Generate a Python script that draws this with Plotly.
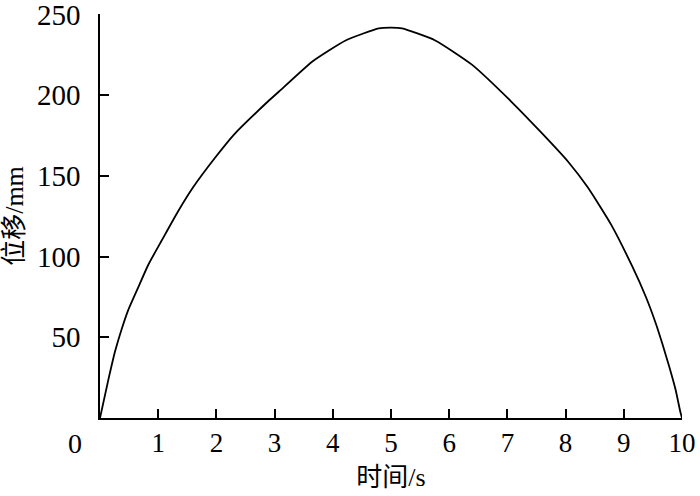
import plotly.graph_objects as go

# time (s) and displacement (mm)
time_s = [0, 0.143, 0.257, 0.372, 0.486, 0.657, 0.83, 1.06, 1.34, 1.6, 1.97,
          2.31, 2.88, 3.08, 3.65, 4.22, 4.79, 5.0, 5.19, 5.76, 6.39, 7.07,
          7.58, 8.04, 8.38, 8.78, 9.15, 9.38, 9.55, 9.66, 9.78, 9.89, 9.97,
          10.0]
disp_mm = [0, 23.6, 41, 55, 67, 81, 95, 110, 128, 143, 161,
           176, 196, 202.5, 221, 234, 241.5, 242, 241.5, 234, 219, 196,
           177, 159, 143, 120, 93.6, 75, 58.6, 46.3, 31.9, 17.5, 4,
           0]

x_ticks = [1, 2, 3, 4, 5, 6, 7, 8, 9, 10]
y_ticks = [50, 100, 150, 200, 250]

FONT = "Liberation Serif, Noto Sans CJK SC, serif"

fig = go.Figure()

fig.add_trace(
    go.Scatter(
        x=time_s,
        y=disp_mm,
        mode="lines",
        line=dict(color="black", width=1.8, shape="spline", smoothing=0.5),
        showlegend=False,
    )
)

axis_style = dict(
    showline=True,
    linecolor="black",
    linewidth=1.5,
    ticks="inside",
    ticklen=9,
    tickwidth=1.5,
    tickcolor="black",
    showgrid=False,
    zeroline=False,
    automargin=False,
    ticklabeloverflow="allow",
)

fig.update_xaxes(
    range=[0, 10],
    tickvals=x_ticks,
    ticktext=[str(v) for v in x_ticks],
    tickfont=dict(family=FONT, size=27, color="black"),
    title=dict(text="时间/s", font=dict(family=FONT, size=26, color="black"), standoff=11),
    **axis_style,
)
fig.update_yaxes(
    range=[0, 250.4],
    tickvals=y_ticks,
    ticktext=[str(v) for v in y_ticks],
    tickfont=dict(family=FONT, size=29, color="black"),
    ticklabelstandoff=12,
    title=dict(text="位移/mm", font=dict(family=FONT, size=26, color="black"), standoff=17),
    **axis_style,
)

# shared origin label
fig.add_annotation(
    x=0, y=0, xref="x", yref="y", text="0", showarrow=False,
    xshift=-25, yshift=-25,
    font=dict(family=FONT, size=28, color="black"),
)

fig.update_layout(
    width=700,
    height=496,
    margin=dict(l=100, r=18, t=14, b=78),
    plot_bgcolor="white",
    paper_bgcolor="white",
)

# drop the default 8px page margin so the figure sits at the window corner
fig.write_html(
    "out.html",
    config={"displayModeBar": False},
    post_script="document.body.style.margin = '0';",
)
